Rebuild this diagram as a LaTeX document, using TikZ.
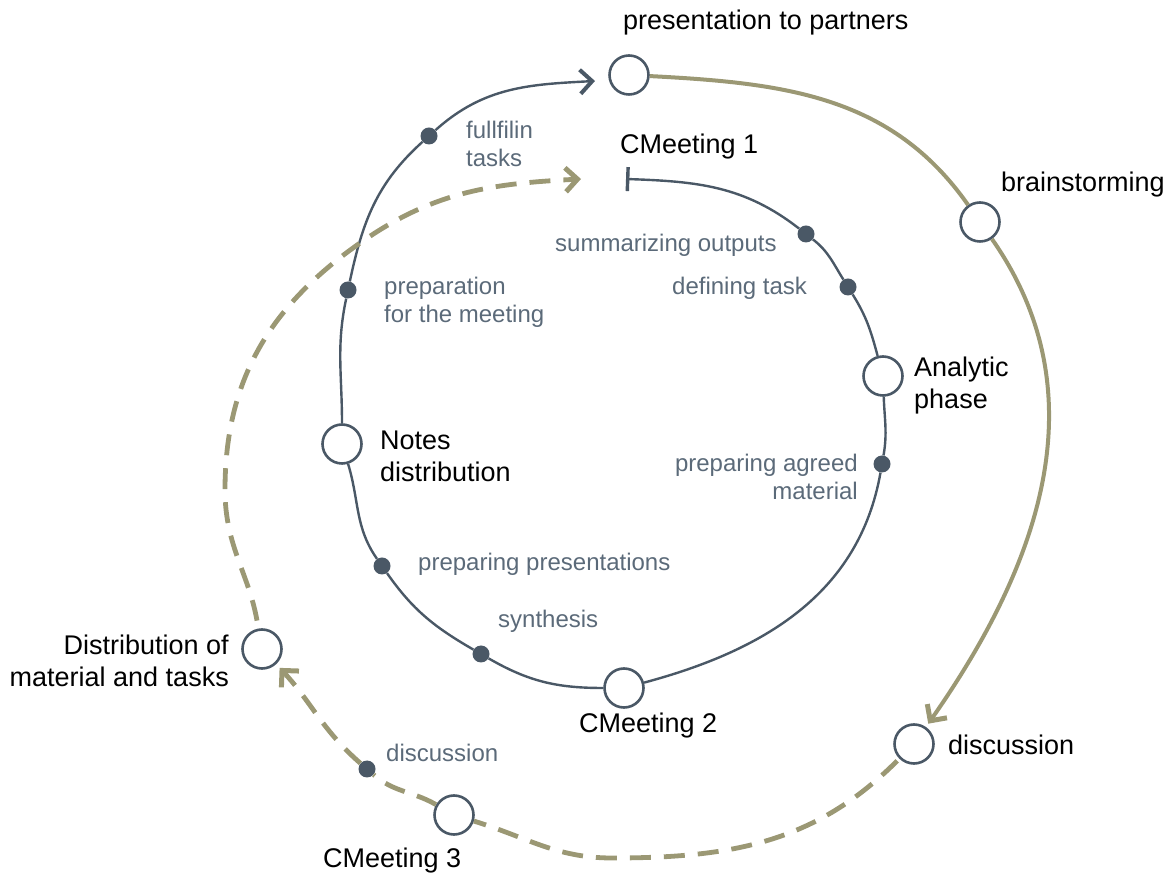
\documentclass[tikz,border=0pt]{standalone}
\usepackage{fontspec}
\setmainfont{Liberation Sans}
\usetikzlibrary{arrows.meta}
\definecolor{slate}{HTML}{4A5866}
\definecolor{olivec}{HTML}{9B9874}
\definecolor{lbl}{HTML}{5B6A79}
\begin{document}
\begin{tikzpicture}[x=1pt,y=1pt,
  ring/.style={circle, draw=slate, line width=2.6pt, fill=white, minimum size=39pt, inner sep=0pt},
  dot/.style={circle, fill=slate, minimum size=17pt, inner sep=0pt},
  mainline/.style={draw=slate, line width=2.4pt},
  olsolid/.style={draw=olivec, line width=4pt},
  oldash/.style={draw=olivec, line width=4.8pt, dash pattern=on 21pt off 13pt},
  big/.style={font=\fontsize{27}{32}\selectfont, text=black, inner sep=0pt},
  small/.style={font=\fontsize{24}{28.5}\selectfont, text=lbl, inner sep=0pt},
  slatetip/.style={-{Straight Barb[length=12pt,width=24pt,line width=4pt]}},
  olivetip/.style={-{Straight Barb[length=12pt,width=24pt,line width=5pt]}},
]
\useasboundingbox (0,0) rectangle (1174,872);

% circles
\node[ring] (pres)  at (629,797) {};
\node[ring] (brain) at (980,650) {};
\node[ring] (anal)  at (883,496) {};
\node[ring] (notes) at (342,428) {};
\node[ring] (cm2)   at (624,184) {};
\node[ring] (dist)  at (262,223) {};
\node[ring] (disc)  at (914,128) {};
\node[ring] (cm3)   at (454,57) {};

% dots
\node[dot] (d1) at (429,736) {};
\node[dot] (d2) at (348,582) {};
\node[dot] (d3) at (806,638) {};
\node[dot] (d4) at (848,585) {};
\node[dot] (d5) at (882,408) {};
\node[dot] (d6) at (382,306) {};
\node[dot] (d7) at (481,218) {};

% free ends
\coordinate (tbar) at (626,693);
\coordinate (tipA) at (595,791);
\coordinate (tipB) at (581,693);
\coordinate (bot)  at (612,14);
\coordinate (m1)   at (225,382);
\coordinate (m2)   at (360,629);

% inner spiral
\draw[mainline, {Bar[width=24pt,line width=3.4pt]}-]
  (tbar) to[out=-2,in=142] (d3);
\draw[mainline]
  (d3) to[out=-38,in=122] (d4)
  to[out=-58,in=105] (anal)
  to[out=-88,in=80] (d5)
  to[out=-100,in=15] (cm2)
  to[out=180,in=-30] (d7)
  to[out=150,in=-55] (d6)
  to[out=125,in=-73] (notes)
  to[out=90,in=-102] (d2)
  to[out=78,in=-138] (d1);
\draw[mainline, slatetip]
  (d1) to[out=42,in=183] (tipA);

% outer solid olive
\draw[olsolid]
  (pres) to[out=-3,in=125] (brain);
\draw[olsolid, olivetip, shorten >=4pt]
  (brain) to[out=-55,in=55] (disc);

% dashed olive, bottom part
\draw[oldash, shorten <=3pt]
  (disc) to[out=-135,in=0] (bot)
  to[out=180,in=-17] (cm3);

\node[dot] (d8) at (367,103) {};

\draw[oldash]
  (cm3) to[out=150,in=-41] (d8);
\draw[oldash, olivetip, shorten >=5pt]
  (d8) to[out=139,in=-47] (dist);

% dashed olive, left part
\draw[oldash, olivetip, shorten <=8pt]
  (dist) to[out=100,in=-90] (m1)
  to[out=90,in=215] (m2)
  to[out=35,in=183] (tipB);

% labels (black)
\node[big, anchor=base west] (tpres) at (623,842) {presentation to partners};
\node[big, anchor=base west] (tcm1) at (620,718) {CMeeting 1};
\node[big, anchor=base west] (tbrain) at (1001,680) {brainstorming};
\node[big, anchor=base west, align=left] (tanal) at (914,463) {Analytic\\phase};
\node[big, anchor=base west, align=left] (tnotes) at (380,390) {Notes\\distribution};
\node[big, anchor=base west] (tcm2) at (579,139) {CMeeting 2};
\node[big, anchor=base east, align=right] (tdist) at (229,185) {Distribution of\\material and tasks};
\node[big, anchor=base west] (tdisc) at (948,117) {discussion};
\node[big, anchor=base west] (tcm3) at (323,5) {CMeeting 3};

% labels (grey)
\node[small, anchor=base west, align=left] (tful) at (466,705) {fullfilin\\tasks};
\node[small, anchor=base west] (tsum) at (555,620) {summarizing outputs};
\node[small, anchor=base west, align=left] (tprep) at (384,549) {preparation\\for the meeting};
\node[small, anchor=base west] (tdef) at (672,577) {defining task};
\node[small, anchor=base east, align=right] (tagr) at (858,372) {preparing agreed\\material};
\node[small, anchor=base west] (tpp) at (418,301) {preparing presentations};
\node[small, anchor=base west] (tsyn) at (498,244) {synthesis};
\node[small, anchor=base west] (tdl) at (386,110) {discussion};
\end{tikzpicture}
\end{document}
